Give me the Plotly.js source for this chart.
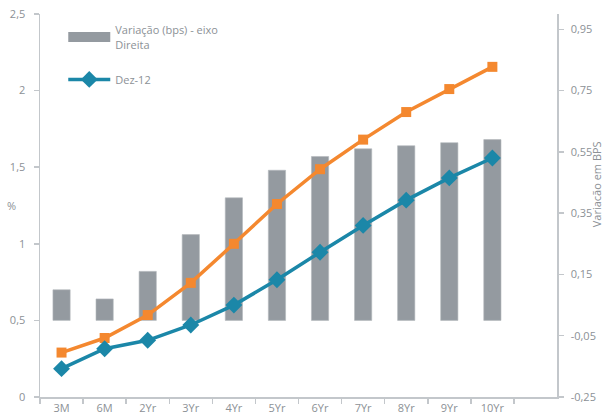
<!DOCTYPE html>
<html>
<head>
<meta charset="utf-8">
<script src="https://cdn.plot.ly/plotly-3.0.1.min.js"></script>
<style>html,body{margin:0;padding:0;background:#fff;}#chart{width:605px;height:418px;}</style>
</head>
<body>
<div id="chart"></div>
<script>
const categories = ["3M", "6M", "2Yr", "3Yr", "4Yr", "5Yr", "6Yr", "7Yr", "8Yr", "9Yr", "10Yr"];
const variacaoBps = [0.10, 0.07, 0.16, 0.28, 0.40, 0.49, 0.535, 0.56, 0.57, 0.58, 0.59];
const dez12 = [0.185, 0.315, 0.37, 0.47, 0.60, 0.765, 0.945, 1.12, 1.285, 1.43, 1.56];
const atual = [0.29, 0.385, 0.535, 0.745, 1.0, 1.26, 1.487, 1.68, 1.86, 2.01, 2.155];
const leftTickVals = [0, 0.5, 1, 1.5, 2, 2.5];
const leftTickText = ["0", "0,5", "1", "1,5", "2", "2,5"];
const rightTickVals = [-0.25, -0.05, 0.15, 0.35, 0.55, 0.75, 0.95];
const rightTickText = ["-0,25", "-0,05", "0,15", "0,35", "0,55", "0,75", "0,95"];

const gray = "#8c9196";
const barCol = "#949aa0";
const axisCol = "#c3c7cb";
const fontFam = "'Open Sans', 'Noto Sans', sans-serif";

const traces = [
  {
    type: "bar", name: "Variação (bps) - eixo Direita",
    x: categories, y: variacaoBps, yaxis: "y", width: 0.4,
    marker: {color: barCol, line: {color: "#b4b8bc", width: 0.6}},
    showlegend: false
  },
  {
    /* legend entry for the bar series (wide grey swatch) */
    type: "scatter", mode: "lines", name: "Variação (bps) - eixo<br>Direita",
    x: [null], y: [null], yaxis: "y",
    line: {color: barCol, width: 10},
    legendgroup: "a", showlegend: true
  },
  {
    type: "scatter", mode: "lines+markers", name: "Atual",
    x: categories, y: atual, yaxis: "y2", showlegend: false,
    line: {color: "#f4882f", width: 3.5},
    marker: {symbol: "square", size: 10, color: "#f4882f"}
  },
  {
    type: "scatter", mode: "lines+markers", name: "Dez-12",
    x: categories, y: dez12, yaxis: "y2", legendgroup: "b",
    line: {color: "#1b87a8", width: 3.5},
    marker: {symbol: "diamond", size: 13, color: "#1b87a8"}
  }
];

const layout = {
  width: 605, height: 418,
  margin: {l: 40, r: 48, t: 14, b: 21},
  paper_bgcolor: "#fff", plot_bgcolor: "#fff",
  font: {family: fontFam, size: 11, color: gray},
  showlegend: true,
  legend: {
    x: 0.045, y: 0.994, xanchor: "left", yanchor: "top",
    bgcolor: "rgba(0,0,0,0)", traceorder: "grouped", tracegroupgap: 17,
    font: {family: fontFam, size: 11, color: gray}, itemwidth: 42
  },
  xaxis: {
    type: "category", range: [-0.5, 11.5],
    showline: true, linecolor: axisCol, linewidth: 1.5,
    ticks: "outside", tickson: "boundaries", ticklen: 5, tickcolor: axisCol, tickwidth: 1.5,
    showgrid: false, zeroline: false,
    tickfont: {family: fontFam, size: 11, color: gray}
  },
  yaxis: {
    side: "right",
    range: [-0.25, 1.0], tickvals: rightTickVals, ticktext: rightTickText,
    showline: true, linecolor: axisCol, linewidth: 1.5,
    ticks: "outside", ticklen: 5, tickcolor: axisCol, tickwidth: 1.5,
    showgrid: false, zeroline: false, ticklabelstandoff: 5,
    tickfont: {family: fontFam, size: 11, color: gray}
  },
  yaxis2: {
    overlaying: "y", side: "left",
    range: [0, 2.5], tickvals: leftTickVals, ticktext: leftTickText,
    showline: true, linecolor: axisCol, linewidth: 1.5,
    ticks: "outside", ticklen: 5, tickcolor: axisCol, tickwidth: 1.5,
    showgrid: false, zeroline: false, ticklabelstandoff: 6,
    tickfont: {family: fontFam, size: 11, color: gray}
  },
  annotations: [
    {text: "%", xref: "paper", yref: "paper", x: -0.055, y: 0.5, xanchor: "center", yanchor: "middle",
     showarrow: false, font: {family: fontFam, size: 11, color: gray}},
    {text: "Variacão em BPS", xref: "paper", yref: "paper", x: 1.077, y: 0.555, xanchor: "center", yanchor: "middle",
     textangle: -90, showarrow: false, font: {family: fontFam, size: 11, color: gray}}
  ]
};

Plotly.newPlot("chart", traces, layout, {displayModeBar: false, staticPlot: true});
</script>
</body>
</html>
